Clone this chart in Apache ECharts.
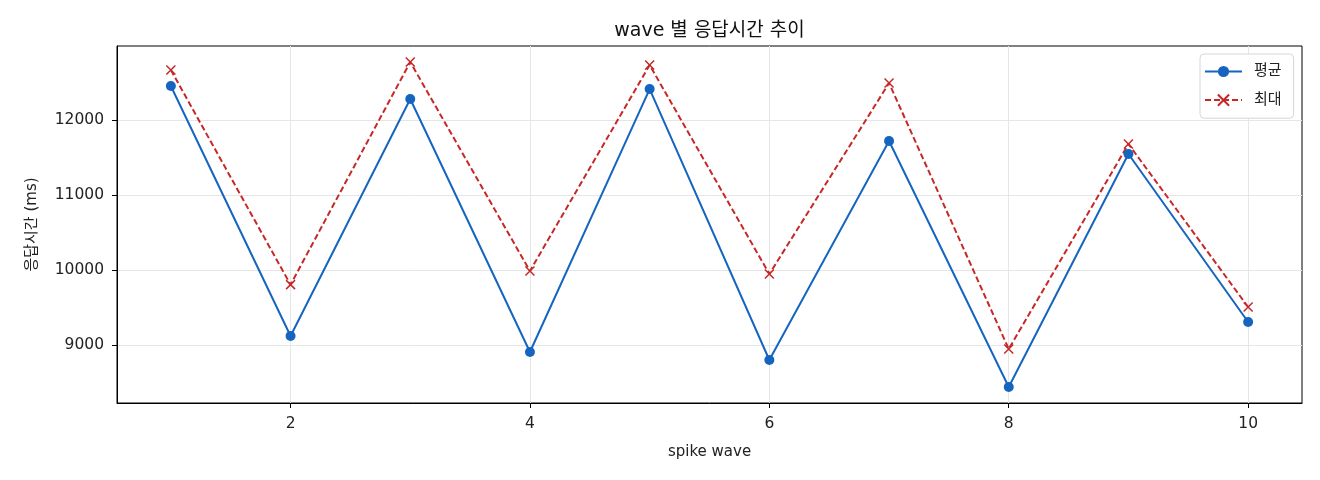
<!DOCTYPE html>
<html><head><meta charset="utf-8">
<script src="https://cdn.jsdelivr.net/npm/echarts@6/dist/echarts.min.js"></script>
<style>html,body{margin:0;padding:0;background:#fff}#c{width:1320px;height:480px}</style>
</head><body><div id="c"></div>
<script>
const waves = [1,2,3,4,5,6,7,8,9,10];
const avgValues = [12453, 9120, 12280, 8907, 12413, 8800, 11720, 8440, 11547, 9307];
const maxValues = [12667, 9805, 12773, 9987, 12733, 9947, 12493, 8947, 11680, 9507];
const xTicks = [2,4,6,8,10];
const yTicks = [9000,10000,11000,12000];
const FONT = '"DejaVu Sans", "Noto Sans CJK KR", sans-serif';

const chart = echarts.init(document.getElementById('c'), null, {renderer:'canvas'});
chart.setOption({
  animation:false,
  textStyle:{fontFamily:FONT},
  title:{text:'wave 별 응답시간 추이', left:709.5, textAlign:'center', top:19,
    textStyle:{fontFamily:FONT,fontSize:19,fontWeight:'normal',color:'#111',lineHeight:24},
    padding:0},
  grid:{left:117,right:18,top:46,bottom:77,show:true,borderColor:'#000',borderWidth:1},
  legend:{left:1200,top:54,orient:'vertical',itemGap:13,itemWidth:37,itemHeight:14,
    backgroundColor:'#fff',borderColor:'#d6d6d6',borderWidth:1,borderRadius:4,padding:[10,12,10,4],
    textStyle:{fontFamily:FONT,fontSize:15,color:'#222',padding:[0,0,0,7]},
    data:[{name:'평균'},{name:'최대'}]},
  xAxis:{type:'value',min:0.55,max:10.45,name:'spike wave',nameLocation:'middle',nameGap:42,
    nameTextStyle:{fontFamily:FONT,fontSize:15,color:'#222'},
    axisLine:{show:true,onZero:false,lineStyle:{color:'#000'}},
    axisTick:{show:true,customValues:xTicks,length:5,lineStyle:{color:'#000'}},
    axisLabel:{customValues:xTicks,fontFamily:FONT,fontSize:15.5,color:'#222',margin:13},
    splitLine:{show:true,lineStyle:{color:'#e6e6e6'}}},
  yAxis:{type:'value',min:8227,max:12987,name:'응답시간 (ms)',nameLocation:'middle',nameGap:77,
    nameTextStyle:{fontFamily:FONT,fontSize:15,color:'#222'},
    axisLine:{show:true,lineStyle:{color:'#000'}},
    axisTick:{show:true,customValues:yTicks,length:5,lineStyle:{color:'#000'}},
    axisLabel:{customValues:yTicks,fontFamily:FONT,fontSize:15.5,color:'#222',margin:13,
      formatter:v=>String(v)},
    splitLine:{show:true,lineStyle:{color:'#e6e6e6'}}},
  series:[
    {name:'평균',type:'line',data:waves.map((w,i)=>[w,avgValues[i]]),
      symbol:'circle',symbolSize:10,itemStyle:{color:'#1565c0'},
      lineStyle:{color:'#1565c0',width:2}},
    {name:'최대',type:'line',data:waves.map((w,i)=>[w,maxValues[i]]),
      symbol:'path://M-1,-1L1,1M1,-1L-1,1',symbolSize:9,
      itemStyle:{color:'none',borderColor:'#c62828',borderWidth:1.5},
      lineStyle:{color:'#c62828',width:2,type:[6,3]}}
  ]
});
</script></body></html>
